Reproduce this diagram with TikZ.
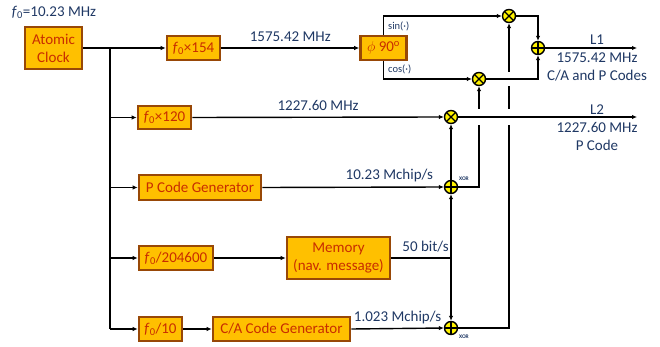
\documentclass[tikz,border=0pt]{standalone}
\usepackage{fontspec}
\setmainfont{Carlito}
\usetikzlibrary{arrows.meta,calc}
\definecolor{boxfill}{RGB}{255,192,0}
\definecolor{boxline}{RGB}{152,72,7}
\definecolor{boxtext}{RGB}{200,45,0}
\definecolor{lbl}{RGB}{31,56,100}
\begin{document}
\begin{tikzpicture}[x=1pt,y=-1pt,
  blk/.style={draw=boxline, fill=boxfill, line width=2.7pt, text=boxtext, inner sep=0pt, align=center, font=\fontsize{15}{18}\selectfont},
  lab/.style={text=lbl, font=\fontsize{15}{18}\selectfont, inner sep=0pt, align=center},
  smalllab/.style={text=lbl, font=\fontsize{10.5}{12}\selectfont, inner sep=0pt},
  tinylab/.style={text=lbl, font=\fontsize{5.5}{6}\selectfont\bfseries, inner sep=0pt},
  wire/.style={line width=1.4pt},
  arr/.style={wire, -{Latex[length=5pt,width=4.5pt]}},
  gap/.style={white, line width=5pt},
  mix/.style={circle, draw, fill=yellow, minimum size=13pt, inner sep=0pt, line width=1.4pt,
    path picture={\draw[line width=1.1pt] (path picture bounding box.north west) -- (path picture bounding box.south east)
      (path picture bounding box.north east) -- (path picture bounding box.south west);}},
  sumnode/.style={circle, draw, fill=yellow, minimum size=13pt, inner sep=0pt, line width=1.4pt,
    path picture={\draw[line width=1.1pt] (path picture bounding box.north) -- (path picture bounding box.south)
      (path picture bounding box.east) -- (path picture bounding box.west);}}
]
\useasboundingbox (0,0) rectangle (660,347);

% blocks
\node[blk, minimum width=57pt, minimum height=42pt] (clock) at (53.5,48) {Atomic\\Clock};
\node[lab] (f0lab) at (54,12) {\textit{f}\textsubscript{0}=10.23 MHz};
\node[blk, minimum width=53pt, minimum height=24pt] (m154) at (193.5,48) {\textit{f}\textsubscript{0}×154};
\node[blk, minimum width=53pt, minimum height=23pt] (m120) at (164.5,117.5) {\textit{f}\textsubscript{0}×120};
\node[blk, minimum width=46pt, minimum height=24pt] (phi) at (383.5,48) {$\phi$ 90\textsuperscript{o}};
\node[blk, minimum width=122pt, minimum height=25pt] (pgen) at (200,187.5) {P Code Generator};
\node[blk, minimum width=74pt, minimum height=24pt] (div204) at (176,258) {\textit{f}\textsubscript{0}/204600};
\node[blk, minimum width=103pt, minimum height=42pt] (mem) at (338.5,258) {Memory\\(nav. message)};
\node[blk, minimum width=43pt, minimum height=24pt] (div10) at (160.5,329) {\textit{f}\textsubscript{0}/10};
\node[blk, minimum width=137pt, minimum height=24pt] (cagen) at (281.5,329) {C/A Code Generator};

% mixers
\node[mix] (sinm) at (509,16) {};
\node[mix] (cosm) at (479,79) {};
\node[sumnode] (add) at (538,48) {};
\node[mix] (l2m) at (451,117) {};
\node[sumnode] (xor1) at (451,187) {};
\node[sumnode] (xor2) at (451,328) {};
\node[tinylab] (xorlab1) at (464,179) {XOR};
\node[tinylab] (xorlab2) at (464,337) {XOR};

\coordinate (tj) at (110,48);
\coordinate (l1end) at (637,48);
\coordinate (l2end) at (637,117);
\coordinate (jn) at (451,258);

% vertical modulation lines (drawn first, with gaps)
\draw[arr] (xor1.east) -| (cosm.south);
\draw[arr] (xor2.east) -| (sinm.south);
\draw[gap] ($(l2m -| cosm)+(0,-8)$) -- ($(l2m -| cosm)+(0,8)$);
\draw[gap] ($(l2m -| sinm)+(0,-8)$) -- ($(l2m -| sinm)+(0,8)$);
\draw[gap] ($(cosm -| sinm)+(0,-7)$) -- ($(cosm -| sinm)+(0,7)$);

% clock distribution
\draw[arr] (clock.east) -- (m154.west);
\draw[wire] (tj) -- (tj |- div10);
\draw[arr] (tj |- m120) -- (m120.west);
\draw[arr] (tj |- pgen) -- (pgen.west);
\draw[arr] (tj |- div204) -- (div204.west);
\draw[arr] (tj |- div10) -- (div10.west);

% L1 path
\draw[arr] (m154.east) -- node[lab, above=6pt] (lf1) {1575.42 MHz} (phi.west);
\draw[arr] (phi.north) |- (sinm.west);
\draw[arr] (phi.south) |- (cosm.west);
\node[smalllab, anchor=west] (sinlab) at (388,26) {sin(·)};
\node[smalllab, anchor=west] (coslab) at (388,69) {cos(·)};
\draw[arr] (sinm.east) -| (add.north);
\draw[arr] (cosm.east) -| (add.south);
\draw[arr] (add.east) -- (l1end);
\node[lab] (l1lab) at (597,58) {L1\\1575.42 MHz\\C/A and P Codes};

% L2 path
\draw[arr] (m120.east) -- node[lab, above=6pt] (lf2) {1227.60 MHz} (l2m.west);
\draw[arr] (l2m.east) -- (l2end);
\node[lab] (l2lab) at (597,128) {L2\\1227.60 MHz\\P Code};

% codes
\draw[arr] (pgen.east) -- node[lab, above=5pt, pos=0.7] (pch) {10.23 Mchip/s} (xor1.west);
\draw[arr] (xor1.north) -- (l2m.south);
\draw[arr] (div204.east) -- (mem.west);
\draw[wire] (mem.east) -- (jn);
\node[lab, anchor=south east] (bits) at (449,252) {50 bit/s};
\draw[arr] (jn) -- (xor1.south);
\draw[arr] (jn) -- (xor2.north);
\draw[arr] (div10.east) -- (cagen.west);
\draw[arr] (cagen.east) -- node[lab, above=4pt] (cach) {1.023 Mchip/s} (xor2.west);
\end{tikzpicture}
\end{document}
